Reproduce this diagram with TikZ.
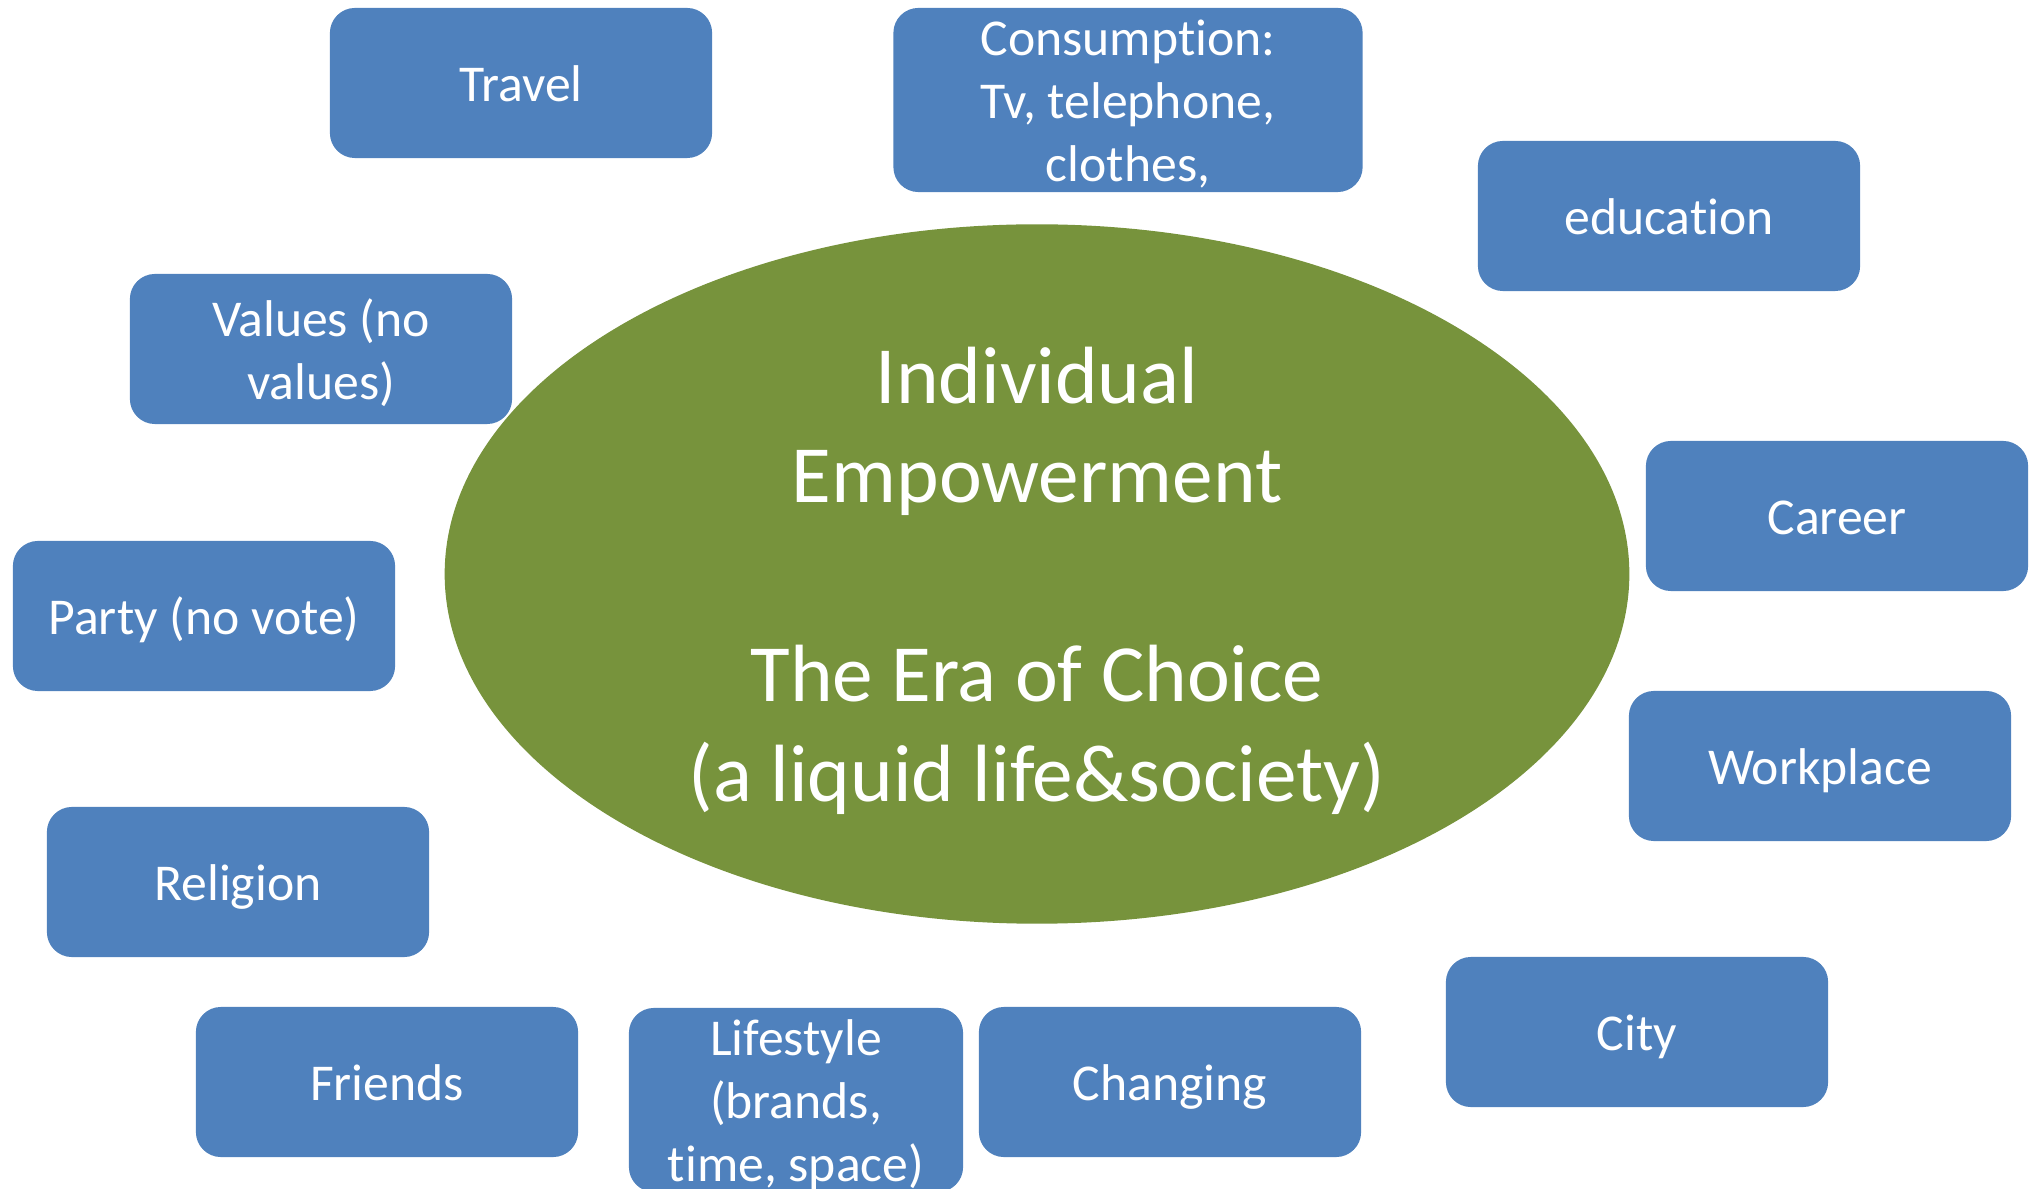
\documentclass[tikz,border=0pt]{standalone}
\usepackage{fontspec}
\setmainfont{Carlito}[Ligatures={NoCommon,NoContextual}, RawFeature=-calt]
\usetikzlibrary{shapes.geometric}
\definecolor{bleu}{HTML}{4F81BD}
\definecolor{vert}{HTML}{77933C}
\begin{document}
\begin{tikzpicture}[x=0.01cm, y=-0.01cm,
  boite/.style={rectangle, rounded corners=0.25cm, fill=bleu, text=white, align=flush center,
    inner sep=0pt, minimum width=3.82cm, minimum height=1.5cm, text width=3.5cm,
    font=\fontsize{14.7}{17.9}\selectfont,
    execute at begin node={\rule{0pt}{0.92em}},
    execute at end node={\rule[-0.2em]{0pt}{0.2em}}},
  centre/.style={ellipse, fill=vert, text=white, align=flush center, inner sep=0pt,
    minimum width=11.84cm, minimum height=6.99cm, text width=8cm,
    font=\fontsize{23.1}{28.3}\selectfont,
    execute at begin node={\rule{0pt}{0.9em}},
    execute at end node={\rule[-0.2em]{0pt}{0.2em}}}]
% Cadre
\useasboundingbox (0,0) rectangle (2037,1189);
\clip (0,0) rectangle (2037,1189);
% Ellipse centrale
\node[centre] (era) at (1037,574) {Individual\\Empowerment\\[28.3pt]The Era of Choice\\(a liquid life\&society)};
% En haut
\node[boite] (travel) at (521,83) {Travel};
\node[boite, minimum width=4.69cm, minimum height=1.84cm, text width=4.4cm] (consumption) at (1128,100) {Consumption:\\Tv, telephone,\\clothes,};
\node[boite] (education) at (1669,216) {education};
% A gauche
\node[boite] (values) at (321,349) {Values (no\\values)};
\node[boite] (party) at (204,616) {Party (no vote)};
\node[boite] (religion) at (238,882) {Religion};
% A droite
\node[boite] (career) at (1837,516) {Career};
\node[boite] (workplace) at (1820,766) {Workplace};
\node[boite] (city) at (1637,1032) {City};
% En bas
\node[boite] (friends) at (387,1082) {Friends};
\node[boite, minimum width=3.34cm, minimum height=1.84cm, text width=3.1cm] (lifestyle) at (796,1100) {Lifestyle\\(brands,\\time, space)};
\node[boite] (changing) at (1170,1082) {Changing};
\end{tikzpicture}
\end{document}
